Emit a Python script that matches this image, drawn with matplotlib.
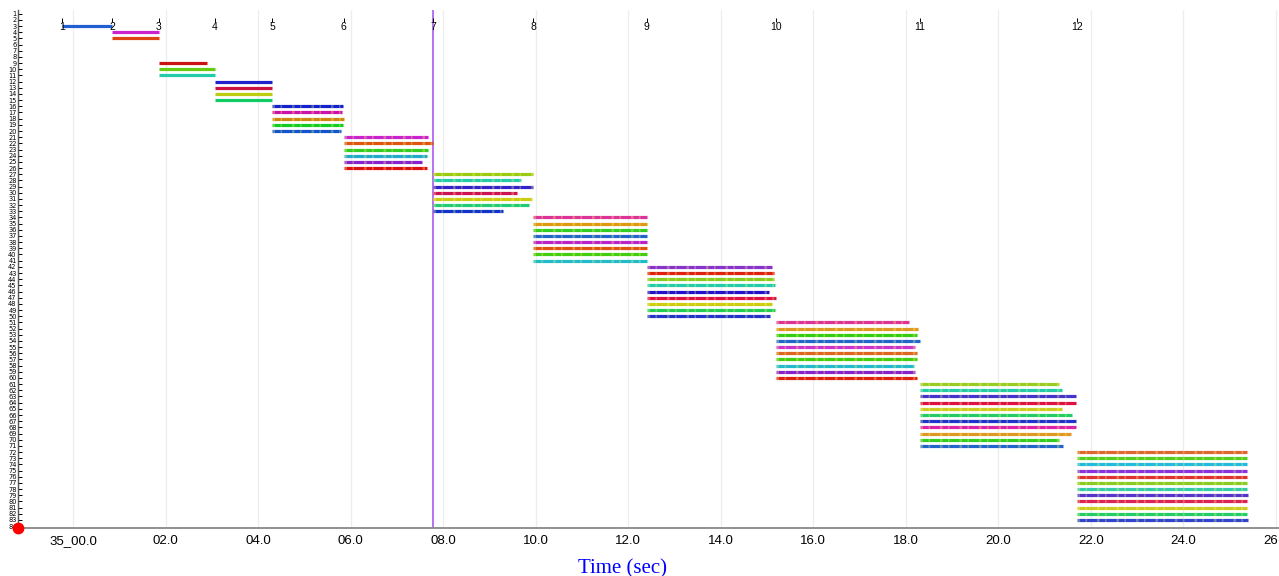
import matplotlib
matplotlib.use('Agg')
import matplotlib.pyplot as plt
import numpy as np

# group start times (sec after 35:00) and per-bar end times
group_names = ['1', '2', '3', '4', '5', '6', '7', '8', '9', '10', '11', '12']
group_start = [-0.24, 0.84, 1.85, 3.06, 4.30, 5.85, 7.78, 9.94, 12.40, 15.19, 18.30, 21.71]
bar_ends = [
    [0.84],
    [1.85, 1.85],
    [2.89, 3.06, 3.06],
    [4.30, 4.30, 4.30, 4.30],
    [5.83, 5.82, 5.85, 5.83, 5.79],
    [7.68, 7.77, 7.67, 7.65, 7.53, 7.64],
    [9.95, 9.69, 9.95, 9.59, 9.91, 9.85, 9.30],
    [12.41, 12.41, 12.41, 12.41, 12.41, 12.41, 12.41, 12.41],
    [15.10, 15.14, 15.15, 15.17, 15.05, 15.19, 15.11, 15.17, 15.06],
    [18.06, 18.26, 18.24, 18.31, 18.21, 18.24, 18.24, 18.18, 18.19, 18.25],
    [21.31, 21.37, 21.68, 21.67, 21.37, 21.59, 21.69, 21.69, 21.57, 21.32, 21.39],
    [25.38, 25.38, 25.38, 25.38, 25.38, 25.38, 25.38, 25.40, 25.38, 25.38, 25.38, 25.40],
]
bar_colors = [
    ['#1f5fd0'],
    ['#cc22cc', '#dd4411'],
    ['#cc1111', '#66cc11', '#22ccaa'],
    ['#2222cc', '#cc1144', '#bbcc11', '#11cc66'],
    ['#1122cc', '#cc11aa', '#cc8811', '#11cc22', '#1155cc'],
    ['#cc22cc', '#dd5511', '#33cc22', '#22aacc', '#8822cc', '#dd1111'],
    ['#99cc11', '#22ccaa', '#3322cc', '#cc1155', '#cccc11', '#22cc77', '#1133cc'],
    ['#dd3399', '#dd9911', '#33cc22', '#2266cc', '#bb22cc', '#dd5511', '#44cc11', '#22bbcc'],
    ['#8833cc', '#dd2211', '#88cc22', '#22ccaa', '#2211cc', '#dd1144', '#cccc11', '#22cc55', '#2233cc'],
    ['#dd3399', '#dd9922', '#33cc11', '#2266cc', '#cc33cc', '#dd6622', '#44cc11', '#22bbcc', '#8822cc', '#dd2211'],
    ['#99cc22', '#22ccaa', '#4433cc', '#dd1144', '#cccc22', '#22cc66', '#2233cc', '#dd22aa', '#dd9922', '#33cc22', '#2266cc'],
    ['#dd6633', '#55cc22', '#22bbdd', '#8833dd', '#dd3333', '#88cc22', '#33ccaa', '#5533cc', '#dd2255', '#cccc22', '#22cc66', '#3344cc'],
]
empty_after = {1: 3}   # blank rows after group 2
marker_time = 7.78
xticks = list(range(0, 27, 2))
xtick_labels = ['35_00.0'] + ['%02d.0' % t for t in xticks[1:]]

fig = plt.figure(figsize=(12.79, 5.76), dpi=100)
ax = fig.add_axes([18 / 1279, 1 - 528 / 576, 1 - 18 / 1279, (528 - 10) / 576])

row = 0
for g in range(len(group_start)):
    for k in range(len(bar_ends[g])):
        ax.hlines(row, group_start[g], bar_ends[g][k], color=bar_colors[g][k], lw=2.3, zorder=3)
        if g >= 4:
            # speckled look
            ax.hlines(row, group_start[g], bar_ends[g][k], color='#ffff88', lw=2.3, alpha=0.3,
                      linestyles=(0, (0.8, 1.7, 0.5, 3.1)), zorder=4)
        row += 1
    row += empty_after.get(g, 0)
    ax.text(group_start[g], 0.15, group_names[g], ha='center', va='center', fontsize=7.5,
            family='Liberation Sans', zorder=5)
    ax.plot([group_start[g]], [-1.05], marker='|', ms=3, mew=0.7, color='black', zorder=5)

ax.axvline(marker_time, color='#b366f0', lw=1.3, zorder=2)

nrows = row
ax.set_ylim(nrows + 0.3, -2.6)
ax.set_xlim(-1.196, 26.07)

yt = np.arange(-2, nrows + 1)
ax.set_yticks(yt)
ax.set_yticklabels(['%d' % (i + 3) for i in yt], fontsize=4.8, color='black')
ax.tick_params(axis='y', direction='in', length=3, width=0.7, pad=1)

ax.set_xticks(xticks)
ax.set_xticklabels(xtick_labels, fontsize=9.5, family='Liberation Sans')
ax.tick_params(axis='x', length=0, pad=5)
ax.grid(axis='x', color='#ededed', lw=0.9, zorder=0)
ax.set_axisbelow(True)

for s in ['top', 'right']:
    ax.spines[s].set_visible(False)
ax.spines['bottom'].set_color('#888888')
ax.spines['bottom'].set_linewidth(1.3)
ax.spines['left'].set_color('#555555')
ax.spines['left'].set_linewidth(1.0)

ax.set_xlabel('Time (sec)', color='blue', fontsize=15, family='Liberation Serif')
ax.xaxis.set_label_coords((623 - 18) / 1261, -0.06)

ax.plot([0], [0], transform=ax.transAxes, marker='o', ms=7.5, color='red', clip_on=False, zorder=10)

fig.savefig('out.png', dpi=100)
